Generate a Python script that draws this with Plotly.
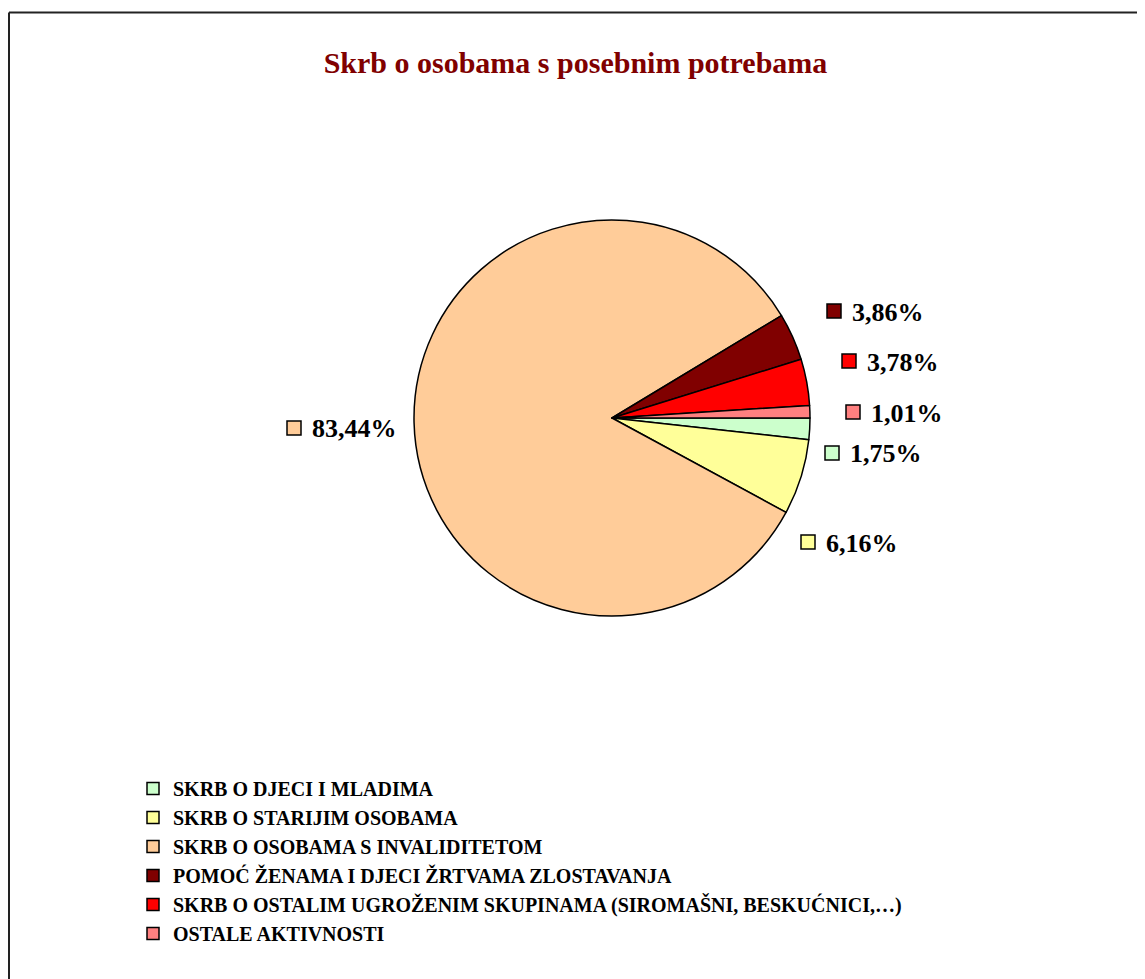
import plotly.graph_objects as go

# ---------------- data ----------------
categories = [
    "SKRB O DJECI I MLADIMA",
    "SKRB O STARIJIM OSOBAMA",
    "SKRB O OSOBAMA S INVALIDITETOM",
    "POMOĆ ŽENAMA I DJECI ŽRTVAMA ZLOSTAVANJA",
    "SKRB O OSTALIM UGROŽENIM SKUPINAMA (SIROMAŠNI, BESKUĆNICI,…)",
    "OSTALE AKTIVNOSTI",
]
shares = [1.75, 6.16, 83.44, 3.86, 3.78, 1.01]

# ---------------- styles / layout ----------------
colors = ["#CCFFCC", "#FFFF99", "#FFCC99", "#800000", "#FF0000", "#FF8080"]
W, H = 1145, 979
OFF = 8  # page body margin
FONT = "Liberation Serif, Times New Roman, serif"

def px(x):
    return (x - OFF) / W

def py(y):
    return 1 - (y - OFF) / H

# pie placement (screen pixels)
CX, CY, R = 612, 418, 198

# label positions (left of key box, vertical centre) in screen pixels, per slice
label_pos = [(825, 453), (801, 542), (287, 428), (827, 311), (842, 361), (846, 412)]
BOX = 14

fig = go.Figure()
fig.add_trace(go.Pie(
    labels=categories,
    values=shares,
    sort=False,
    direction="clockwise",
    rotation=90,
    textinfo="none",
    hoverinfo="label+percent",
    marker=dict(colors=colors, line=dict(color="black", width=1.5)),
    domain=dict(x=[px(CX - R), px(CX + R)], y=[py(CY + R), py(CY - R)]),
))

annotations = []
shapes = []
for v, c, (lx, ly) in zip(shares, colors, label_pos):
    shapes.append(dict(
        type="rect", xref="paper", yref="paper",
        x0=px(lx), x1=px(lx + BOX), y0=py(ly + BOX / 2), y1=py(ly - BOX / 2),
        fillcolor=c, line=dict(color="black", width=1.5),
    ))
    annotations.append(dict(
        xref="paper", yref="paper", x=px(lx + BOX + 9), y=py(ly + 1),
        xanchor="left", yanchor="middle", showarrow=False,
        text="<b>" + f"{v:.2f}".replace(".", ",") + "%</b>",
        font=dict(family=FONT, size=26, color="black"),
    ))

# chart-area frame (top and left edges visible)
shapes.append(dict(type="line", xref="paper", yref="paper",
                   x0=px(9), x1=1, y0=py(12.5), y1=py(12.5),
                   line=dict(color="#222222", width=2)))
shapes.append(dict(type="line", xref="paper", yref="paper",
                   x0=px(9), x1=px(9), y0=0, y1=py(12.5),
                   line=dict(color="#222222", width=2)))

fig.update_layout(
    width=W, height=H,
    margin=dict(l=0, r=0, t=0, b=0),
    paper_bgcolor="white",
    plot_bgcolor="white",
    title=dict(
        text="<b>Skrb o osobama s posebnim potrebama</b>",
        x=px(575.5), xanchor="center", y=py(62), yanchor="middle",
        font=dict(family=FONT, size=30, color="#800000"),
    ),
    showlegend=True,
    legend=dict(
        x=px(133), xanchor="left", y=py(769), yanchor="top",
        font=dict(family=FONT, size=20, color="black", weight="bold"),
        bgcolor="rgba(0,0,0,0)", borderwidth=0,
        traceorder="normal",
    ),
    annotations=annotations,
    shapes=shapes,
)

fig.write_html("out.html")
